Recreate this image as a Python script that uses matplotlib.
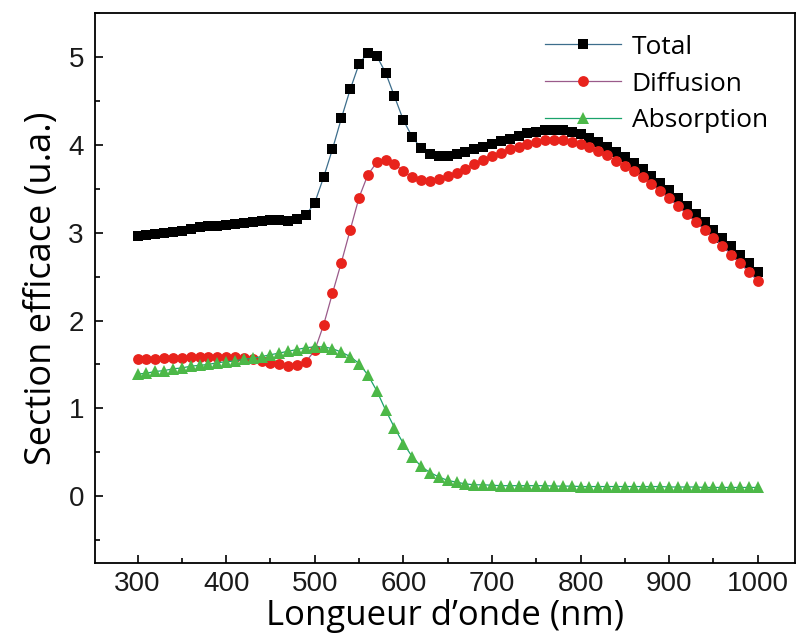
# -*- coding:utf-8 -*-
import numpy as np
import matplotlib
matplotlib.use("Agg")
import matplotlib.pyplot as plt
from matplotlib.ticker import MultipleLocator

# longueur d'onde (nm), pas de 10 nm
wavelength = np.arange(300, 1001, 10)

total = [2.96, 2.97, 2.99, 3.00, 3.01, 3.02, 3.04, 3.06, 3.07, 3.08,
         3.09, 3.10, 3.11, 3.12, 3.13, 3.14, 3.14, 3.13, 3.15, 3.20,
         3.34, 3.63, 3.95, 4.30, 4.63, 4.92, 5.05, 5.01, 4.82, 4.55,
         4.28, 4.09, 3.96, 3.90, 3.87, 3.87, 3.89, 3.92, 3.95, 3.98,
         4.01, 4.04, 4.07, 4.10, 4.13, 4.15, 4.17, 4.17, 4.17, 4.15,
         4.12, 4.08, 4.03, 3.98, 3.92, 3.86, 3.79, 3.72, 3.64, 3.56,
         3.48, 3.39, 3.30, 3.21, 3.12, 3.03, 2.94, 2.85, 2.75, 2.65,
         2.55]

diffusion = [1.56, 1.56, 1.56, 1.57, 1.57, 1.57, 1.58, 1.58, 1.58, 1.59,
             1.59, 1.58, 1.57, 1.56, 1.54, 1.52, 1.50, 1.48, 1.49, 1.53,
             1.66, 1.95, 2.31, 2.66, 3.03, 3.40, 3.66, 3.80, 3.83, 3.78,
             3.70, 3.63, 3.60, 3.59, 3.61, 3.64, 3.68, 3.73, 3.78, 3.83,
             3.87, 3.91, 3.95, 3.98, 4.01, 4.03, 4.05, 4.05, 4.05, 4.03,
             4.01, 3.97, 3.93, 3.88, 3.82, 3.76, 3.70, 3.63, 3.55, 3.47,
             3.39, 3.30, 3.21, 3.12, 3.03, 2.94, 2.85, 2.75, 2.65, 2.55,
             2.45]

absorption = [1.39, 1.40, 1.42, 1.43, 1.45, 1.46, 1.48, 1.49, 1.50, 1.52,
              1.53, 1.54, 1.56, 1.57, 1.59, 1.61, 1.63, 1.65, 1.67, 1.69,
              1.70, 1.70, 1.68, 1.64, 1.59, 1.51, 1.38, 1.20, 0.98, 0.78,
              0.60, 0.45, 0.34, 0.27, 0.22, 0.18, 0.16, 0.14, 0.13, 0.13,
              0.125, 0.12, 0.12, 0.12, 0.12, 0.12, 0.12, 0.115, 0.115, 0.115,
              0.11, 0.11, 0.11, 0.11, 0.11, 0.11, 0.11, 0.11, 0.11, 0.11,
              0.105, 0.105, 0.105, 0.105, 0.10, 0.10, 0.10, 0.10, 0.10, 0.10,
              0.10]

labels = ["Total", "Diffusion", "Absorption"]

fig = plt.figure(figsize=(7.98, 6.34), dpi=100)
ax = fig.add_axes([95 / 798, 71 / 634, 700 / 798, 550 / 634])

ax.plot(wavelength, total, color="#3d6e8c", linewidth=0.9, marker="s", markersize=7.5,
        markerfacecolor="black", markeredgewidth=0, label=labels[0], zorder=2)
ax.plot(wavelength, diffusion, color="#9a5a8a", linewidth=0.9, marker="o", markersize=7.8,
        markerfacecolor="#e8231c", markeredgewidth=0, label=labels[1], zorder=3)
ax.plot(wavelength, absorption, color="#1aa36b", linewidth=0.9, marker="^", markersize=8.5,
        markerfacecolor="#4cb848", markeredgewidth=0, label=labels[2], zorder=4)

ax.set_xlim(252, 1042)
ax.set_ylim(-0.76, 5.5)
ax.xaxis.set_major_locator(MultipleLocator(100))
ax.xaxis.set_minor_locator(MultipleLocator(50))
ax.yaxis.set_major_locator(MultipleLocator(1))
ax.yaxis.set_minor_locator(MultipleLocator(0.5))
ax.set_xticks(range(300, 1001, 100))
ax.tick_params(which="both", direction="in", top=False, right=False, width=1.2)
ax.tick_params(which="major", length=6, labelsize=20)
ax.tick_params(which="minor", length=3.5)
ax.tick_params(axis="x", pad=6)
ax.tick_params(axis="y", pad=8)
for lab in ax.get_xticklabels() + ax.get_yticklabels():
    lab.set_family("Liberation Sans")
    lab.set_color("#1a1a1a")
for sp in ax.spines.values():
    sp.set_linewidth(1.3)

ax.set_xlabel("Longueur d\u2019onde (nm)", family="Open Sans", fontsize=25, labelpad=1)
ax.set_ylabel("Section efficace (u.a.)", family="Open Sans", fontsize=26, labelpad=6)

leg = ax.legend(loc="upper left", bbox_to_anchor=(0.632, 0.974), frameon=True, fancybox=False,
                framealpha=1, edgecolor="none", facecolor="white",
                prop={"family": "Open Sans", "size": 19}, handlelength=2.9,
                handletextpad=0.4, labelspacing=0.45, borderpad=0.08, borderaxespad=0.2)
leg.set_zorder(1.5)  # les courbes passent au-dessus du cadre

plt.savefig("out.png", dpi=100)
